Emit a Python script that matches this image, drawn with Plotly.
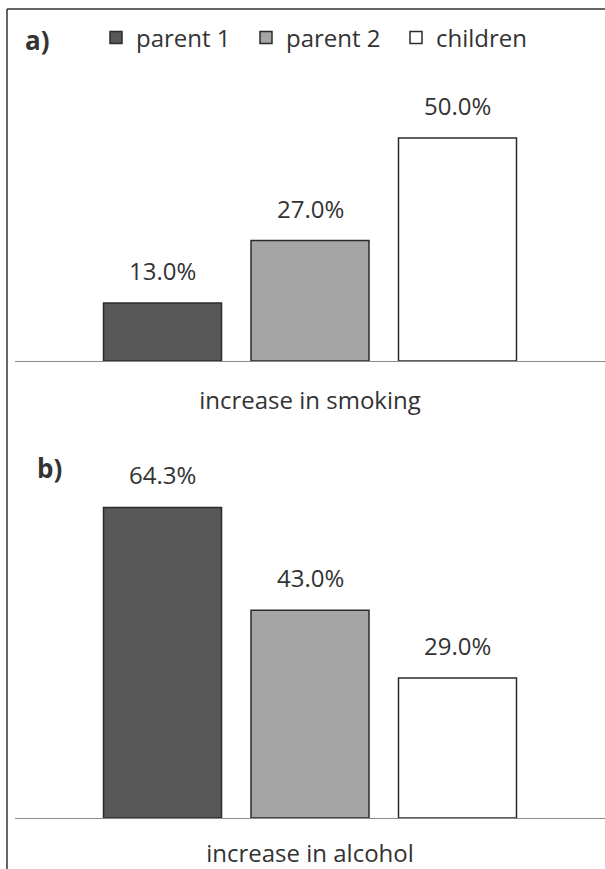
import plotly.graph_objects as go

W, H = 605, 869

groups = ["parent 1", "parent 2", "children"]
smoking = [13.0, 27.0, 50.0]
alcohol = [64.3, 43.0, 29.0]
colors = ["#585858", "#a5a5a5", "#ffffff"]

def px(x):
    return x / W

def py(y):
    return 1 - y / H

FONT = "Open Sans"
TXT = "#333333"

fig = go.Figure()

for i, g in enumerate(groups):
    fig.add_trace(go.Bar(x=[g], y=[smoking[i]], name=g, marker=dict(color=colors[i], line=dict(color="#2b2b2b", width=1.5)),
                         width=0.8, xaxis="x", yaxis="y", showlegend=True, legendgroup=g))
    fig.add_trace(go.Bar(x=[g], y=[alcohol[i]], name=g, marker=dict(color=colors[i], line=dict(color="#2b2b2b", width=1.5)),
                         width=0.8, xaxis="x2", yaxis="y2", showlegend=False, legendgroup=g))

annotations = []
for i, g in enumerate(groups):
    annotations.append(dict(x=g, y=smoking[i], xref="x", yref="y", text=f"{smoking[i]:.1f}%", showarrow=False,
                            yanchor="bottom", yshift=14, font=dict(family=FONT, size=24, color=TXT)))
    annotations.append(dict(x=g, y=alcohol[i], xref="x2", yref="y2", text=f"{alcohol[i]:.1f}%", showarrow=False,
                            yanchor="bottom", yshift=14, font=dict(family=FONT, size=24, color=TXT)))

annotations.append(dict(x=px(37), y=py(40), xref="paper", yref="paper", text="<b>a)</b>", showarrow=False,
                        xanchor="center", yanchor="middle", font=dict(family=FONT, size=26, color=TXT)))
annotations.append(dict(x=px(49), y=py(468), xref="paper", yref="paper", text="<b>b)</b>", showarrow=False,
                        xanchor="center", yanchor="middle", font=dict(family=FONT, size=26, color=TXT)))

xcommon = dict(domain=[px(15), 1], range=[-1, 3], showticklabels=False, ticks="", showgrid=False, zeroline=False,
               showline=True, linecolor="#8a8a8a", linewidth=1.2, fixedrange=True,
               categoryorder="array", categoryarray=groups)

fig.update_layout(
    width=W, height=H,
    margin=dict(l=0, r=0, t=0, b=0),
    paper_bgcolor="white", plot_bgcolor="white",
    barmode="overlay",
    font=dict(family=FONT, color=TXT),
    xaxis=dict(**xcommon, anchor="y", title=dict(text="increase in smoking", standoff=31, font=dict(family=FONT, size=24, color=TXT))),
    yaxis=dict(domain=[py(361), py(100)], range=[0, 261 / 4.46], visible=False, anchor="x", fixedrange=True),
    xaxis2=dict(**xcommon, anchor="y2", title=dict(text="increase in alcohol", standoff=30, font=dict(family=FONT, size=24, color=TXT))),
    yaxis2=dict(domain=[py(818), py(480)], range=[0, 338 / 4.83], visible=False, anchor="x2", fixedrange=True),
    legend=dict(orientation="h", x=px(96), y=py(38), xanchor="left", yanchor="middle",
                font=dict(family=FONT, size=24, color=TXT), itemwidth=30, bgcolor="rgba(0,0,0,0)",
                traceorder="normal", entrywidth=105),
    annotations=annotations,
    shapes=[
        dict(type="line", xref="paper", yref="paper", x0=px(7), x1=1, y0=py(9), y1=py(9), line=dict(color="#333333", width=1.5)),
        dict(type="line", xref="paper", yref="paper", x0=px(7), x1=px(7), y0=py(9), y1=0, line=dict(color="#333333", width=1.5)),
    ],
)

fig.write_html("out.html", config={"displayModeBar": False},
               post_script="document.body.style.margin='0';document.body.style.overflow='hidden';")
